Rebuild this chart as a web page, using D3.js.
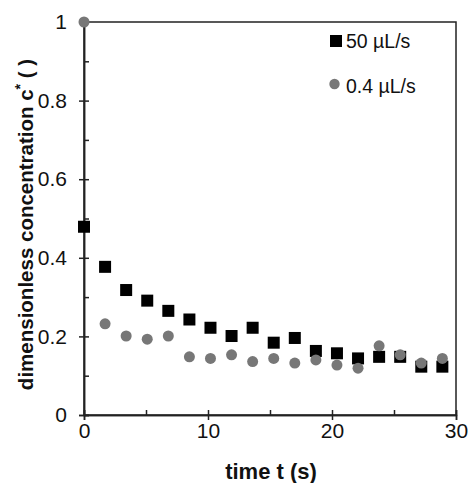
<!DOCTYPE html>
<html>
<head>
<meta charset="utf-8">
<script src="https://cdn.jsdelivr.net/npm/d3@7"></script>
<style>
  body { margin: 0; background: #fff; }
  text { font-family: "Liberation Sans", Arial, sans-serif; }
</style>
</head>
<body>
<svg id="chart" width="468" height="483"></svg>
<script>
// time points (s)
var times = [0, 1.7, 3.4, 5.1, 6.8, 8.5, 10.2, 11.9, 13.6, 15.3, 17, 18.7, 20.4, 22.1, 23.8, 25.5, 27.2, 28.9];
// 50 uL/s
var fast = [0.479, 0.377, 0.318, 0.291, 0.265, 0.243, 0.222, 0.201, 0.222, 0.184, 0.196, 0.163, 0.157, 0.144, 0.148, 0.148, 0.123, 0.123];
// 0.4 uL/s
var slow = [1.0, 0.232, 0.201, 0.193, 0.201, 0.148, 0.144, 0.153, 0.136, 0.144, 0.132, 0.140, 0.127, 0.119, 0.176, 0.153, 0.132, 0.144];
var xTicks = [0, 10, 20, 30],
    xMinor = [5, 15, 25],
    yTicks = [0, 0.2, 0.4, 0.6, 0.8, 1],
    yMinor = [0.1, 0.3, 0.5, 0.7, 0.9];
var seriesNames = ["50 µL/s", "0.4 µL/s"];

var svg = d3.select("#chart"),
    m = {l: 84, r: 12, t: 22, b: 68},
    W = 468, H = 483;
var x = d3.scaleLinear().domain([0, 30]).range([m.l, W - m.r]),
    y = d3.scaleLinear().domain([0, 1]).range([H - m.b, m.t]);
var ink = "#222";

// frame
svg.append("rect")
    .attr("x", x(0)).attr("y", y(1))
    .attr("width", x(30) - x(0)).attr("height", y(0) - y(1))
    .attr("fill", "none").attr("stroke", ink).attr("stroke-width", 1.5);

// axes: major ticks cross the line, minor ticks point inside
var gx = svg.append("g").attr("transform", "translate(0," + y(0) + ")")
    .call(d3.axisBottom(x).tickValues(xTicks).tickSize(5).tickPadding(3).tickFormat(d3.format("d")));
gx.selectAll(".tick line").attr("y1", -5);
svg.append("g").attr("transform", "translate(0," + y(0) + ")")
    .call(d3.axisBottom(x).tickValues(xMinor).tickSize(-5).tickFormat(""));
var gy = svg.append("g").attr("transform", "translate(" + x(0) + ",0)")
    .call(d3.axisLeft(y).tickValues(yTicks).tickSize(5).tickPadding(12).tickFormat(d => d === 0 || d === 1 ? d : d3.format(".1f")(d)));
gy.selectAll(".tick line").attr("x1", 5);
svg.append("g").attr("transform", "translate(" + x(0) + ",0)")
    .call(d3.axisLeft(y).tickValues(yMinor).tickSize(-5).tickFormat(""));
svg.selectAll(".domain").attr("stroke", ink).attr("stroke-width", 1.5);
svg.selectAll(".tick line").attr("stroke", ink).attr("stroke-width", 1.5);
svg.selectAll(".tick text").attr("font-size", 21).attr("fill", "#111")
    .style("font-family", "Liberation Sans, Arial, sans-serif");

// data
var pts = times.map((t, i) => ({t: t, a: fast[i], b: slow[i]}));
svg.append("g").selectAll("rect").data(pts).enter().append("rect")
    .attr("x", d => x(d.t) - 6).attr("y", d => y(d.a) - 6)
    .attr("width", 12).attr("height", 12).attr("fill", "#000");
svg.append("g").selectAll("circle").data(pts).enter().append("circle")
    .attr("cx", d => x(d.t)).attr("cy", d => y(d.b)).attr("r", 5.5)
    .attr("fill", "#777");

// legend
var lg = svg.append("g").attr("transform", "translate(330,0)");
lg.append("rect").attr("x", 0).attr("y", 35).attr("width", 12).attr("height", 12).attr("fill", "#000");
lg.append("circle").attr("cx", 4.5).attr("cy", 84).attr("r", 5.2).attr("fill", "#777");
lg.selectAll("text").data(seriesNames).enter().append("text")
    .attr("x", 16).attr("y", (d, i) => 48 + i * 45)
    .attr("font-size", 19.5).attr("fill", "#111").text(d => d);

// axis titles
svg.append("text").attr("x", (x(0) + x(30)) / 2 + 1).attr("y", 479)
    .attr("text-anchor", "middle").attr("font-size", 22).attr("font-weight", "bold")
    .attr("fill", "#111").text("time t (s)");
var yt = svg.append("text")
    .attr("transform", "translate(33," + (y(0.5) + 6) + ") rotate(-90)")
    .attr("text-anchor", "middle").attr("font-size", 20.5).attr("font-weight", "bold")
    .attr("fill", "#111");
yt.append("tspan").text("dimensionless concentration c");
yt.append("tspan").attr("dy", -8).attr("font-size", 14).text("*");
yt.append("tspan").attr("dy", 8).text(" ( )");
</script>
</body>
</html>
